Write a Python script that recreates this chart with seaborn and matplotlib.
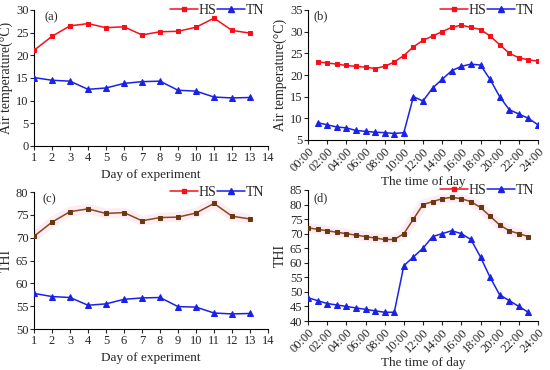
import pandas as pd
import numpy as np
import matplotlib
matplotlib.use("Agg")
import matplotlib.pyplot as plt
import seaborn as sns

# Daily data (day of experiment)
days = list(range(1, 14))
temp_hs_day = [21.1, 24.2, 26.5, 27.0, 26.1, 26.3, 24.5, 25.2, 25.3, 26.2, 28.2, 25.5, 24.9]
temp_tn_day = [15.1, 14.5, 14.3, 12.5, 12.8, 13.8, 14.2, 14.3, 12.3, 12.1, 10.8, 10.6, 10.7]
thi_hs_day = [70.3, 73.4, 75.7, 76.3, 75.3, 75.5, 73.7, 74.4, 74.5, 75.4, 77.5, 74.7, 74.1]
thi_tn_day = [57.8, 57.1, 56.9, 55.2, 55.5, 56.5, 56.8, 56.9, 54.9, 54.8, 53.5, 53.3, 53.4]

# Hourly data (time of day)
hours_temp = list(range(1, 25))
temp_hs_hour = [23.0, 22.8, 22.5, 22.2, 22.0, 21.8, 21.5, 22.0, 23.0, 24.5, 26.5, 28.0,
                29.0, 30.0, 31.0, 31.5, 31.0, 30.5, 29.0, 27.0, 25.0, 24.0, 23.5, 23.2]
temp_tn_hour = [9.0, 8.5, 8.0, 7.8, 7.2, 7.0, 6.8, 6.7, 6.5, 6.7, 15.0, 14.0,
                17.0, 19.0, 21.0, 22.0, 22.5, 22.3, 19.0, 15.0, 12.0, 11.0, 10.0, 8.5]
hours_thi = list(range(0, 24))
thi_hs_hour = [72.0, 71.5, 71.0, 70.5, 70.0, 69.5, 69.0, 68.5, 68.0, 68.0, 70.0, 75.0,
               80.0, 81.0, 82.0, 82.5, 82.0, 81.0, 79.0, 76.0, 73.0, 71.0, 70.0, 69.0]
thi_tn_hour = [48.0, 47.0, 46.0, 45.5, 45.0, 44.5, 44.0, 43.5, 43.0, 43.0, 59.0, 62.0,
               65.0, 69.0, 70.0, 71.0, 70.0, 68.0, 62.0, 55.0, 49.0, 47.0, 45.0, 43.0]
time_labels = [f"{h:02d}:00" for h in range(0, 25, 2)]

sns.set_style("ticks")
plt.rcParams["font.family"] = ["Liberation Serif", "DejaVu Serif"]
plt.rcParams["font.size"] = 9

RED = "#f5101c"
BLUE = "#1a22e6"
BROWN = "#8a4a1e"
BROWN_M = "#6a3810"


def draw(ax, x, hs, tn, hs_color, hs_mcolor, pink=False):
    if pink:
        ax.plot(x, hs, color="#fdecf3", lw=7, solid_capstyle="butt", zorder=1)
    sns.lineplot(x=x, y=hs, ax=ax, color=hs_color, marker="s", markersize=3.5,
                 markerfacecolor=hs_mcolor, markeredgecolor=hs_mcolor, lw=1.1, zorder=3)
    sns.lineplot(x=x, y=tn, ax=ax, color=BLUE, marker="^", markersize=4,
                 markerfacecolor=BLUE, markeredgecolor=BLUE, lw=1.1, zorder=3)
    h1, = ax.plot([], [], color=RED, marker="s", markersize=3.5, lw=1.1)
    h2, = ax.plot([], [], color=BLUE, marker="^", markersize=4, lw=1.1)
    ax.legend([h1, h2], ["HS", "TN"], ncol=2, frameon=False, loc="center right",
              bbox_to_anchor=(0.985, 1.0), handlelength=2.0, handletextpad=0.1,
              columnspacing=0.0, borderaxespad=0, borderpad=0, fontsize=10)
    sns.despine(ax=ax)
    ax.tick_params(direction="out", length=3, width=0.8, labelsize=9, pad=1)
    for s in ["left", "bottom"]:
        ax.spines[s].set_linewidth(0.8)
        ax.spines[s].set_color("black")


fig = plt.figure(figsize=(5.5, 3.7), dpi=100)
axa = fig.add_axes([34 / 550, 1 - 146 / 370, 234 / 550, 136 / 370])
axb = fig.add_axes([308 / 550, 1 - 140 / 370, 230 / 550, 130 / 370])
axc = fig.add_axes([34 / 550, 1 - 329 / 370, 234 / 550, 137 / 370])
axd = fig.add_axes([308 / 550, 1 - 321 / 370, 230 / 550, 131 / 370])

# (a)
draw(axa, days, temp_hs_day, temp_tn_day, RED, RED)
axa.set_xlim(1, 14)
axa.set_xticks(range(1, 15))
axa.set_ylim(0, 30)
axa.set_yticks(range(0, 31, 5))
axa.set_xlabel("Day of experiment", fontsize=9.5, labelpad=4)
axa.set_ylabel("Air temperature(\u00b0C)", fontsize=10, labelpad=2)
axa.text(0.045, 0.95, "(a)", transform=axa.transAxes, fontsize=9, va="center")

# (b)
draw(axb, hours_temp, temp_hs_hour, temp_tn_hour, RED, RED)
axb.set_xlim(0, 24)
axb.set_xticks(range(0, 25, 2))
axb.set_xticklabels(time_labels, rotation=45, ha="right", rotation_mode="anchor")
axb.set_ylim(5, 35)
axb.set_yticks(range(5, 36, 5))
axb.set_xlabel("The time of day", fontsize=9.5, labelpad=1)
axb.set_ylabel("Air temperature(\u00b0C)", fontsize=10, labelpad=2)
axb.text(0.026, 0.95, "(b)", transform=axb.transAxes, fontsize=9, va="center")

# (c)
draw(axc, days, thi_hs_day, thi_tn_day, BROWN, BROWN_M, pink=True)
axc.set_xlim(1, 14)
axc.set_xticks(range(1, 15))
axc.set_ylim(50, 80)
axc.set_yticks(range(50, 81, 5))
axc.set_xlabel("Day of experiment", fontsize=9.5, labelpad=4)
axc.set_ylabel("THI", fontsize=10, labelpad=2)
axc.text(0.035, 0.95, "(c)", transform=axc.transAxes, fontsize=9, va="center")

# (d)
draw(axd, hours_thi, thi_hs_hour, thi_tn_hour, BROWN, BROWN_M, pink=True)
axd.set_xlim(0, 24)
axd.set_xticks(range(0, 25, 2))
axd.set_xticklabels(time_labels, rotation=45, ha="right", rotation_mode="anchor")
axd.set_ylim(40, 85)
axd.set_yticks(range(40, 86, 5))
axd.set_xlabel("The time of day", fontsize=9.5, labelpad=1)
axd.set_ylabel("THI", fontsize=10, labelpad=2)
axd.text(0.026, 0.94, "(d)", transform=axd.transAxes, fontsize=9, va="center")

fig.savefig("out.png", dpi=100)
